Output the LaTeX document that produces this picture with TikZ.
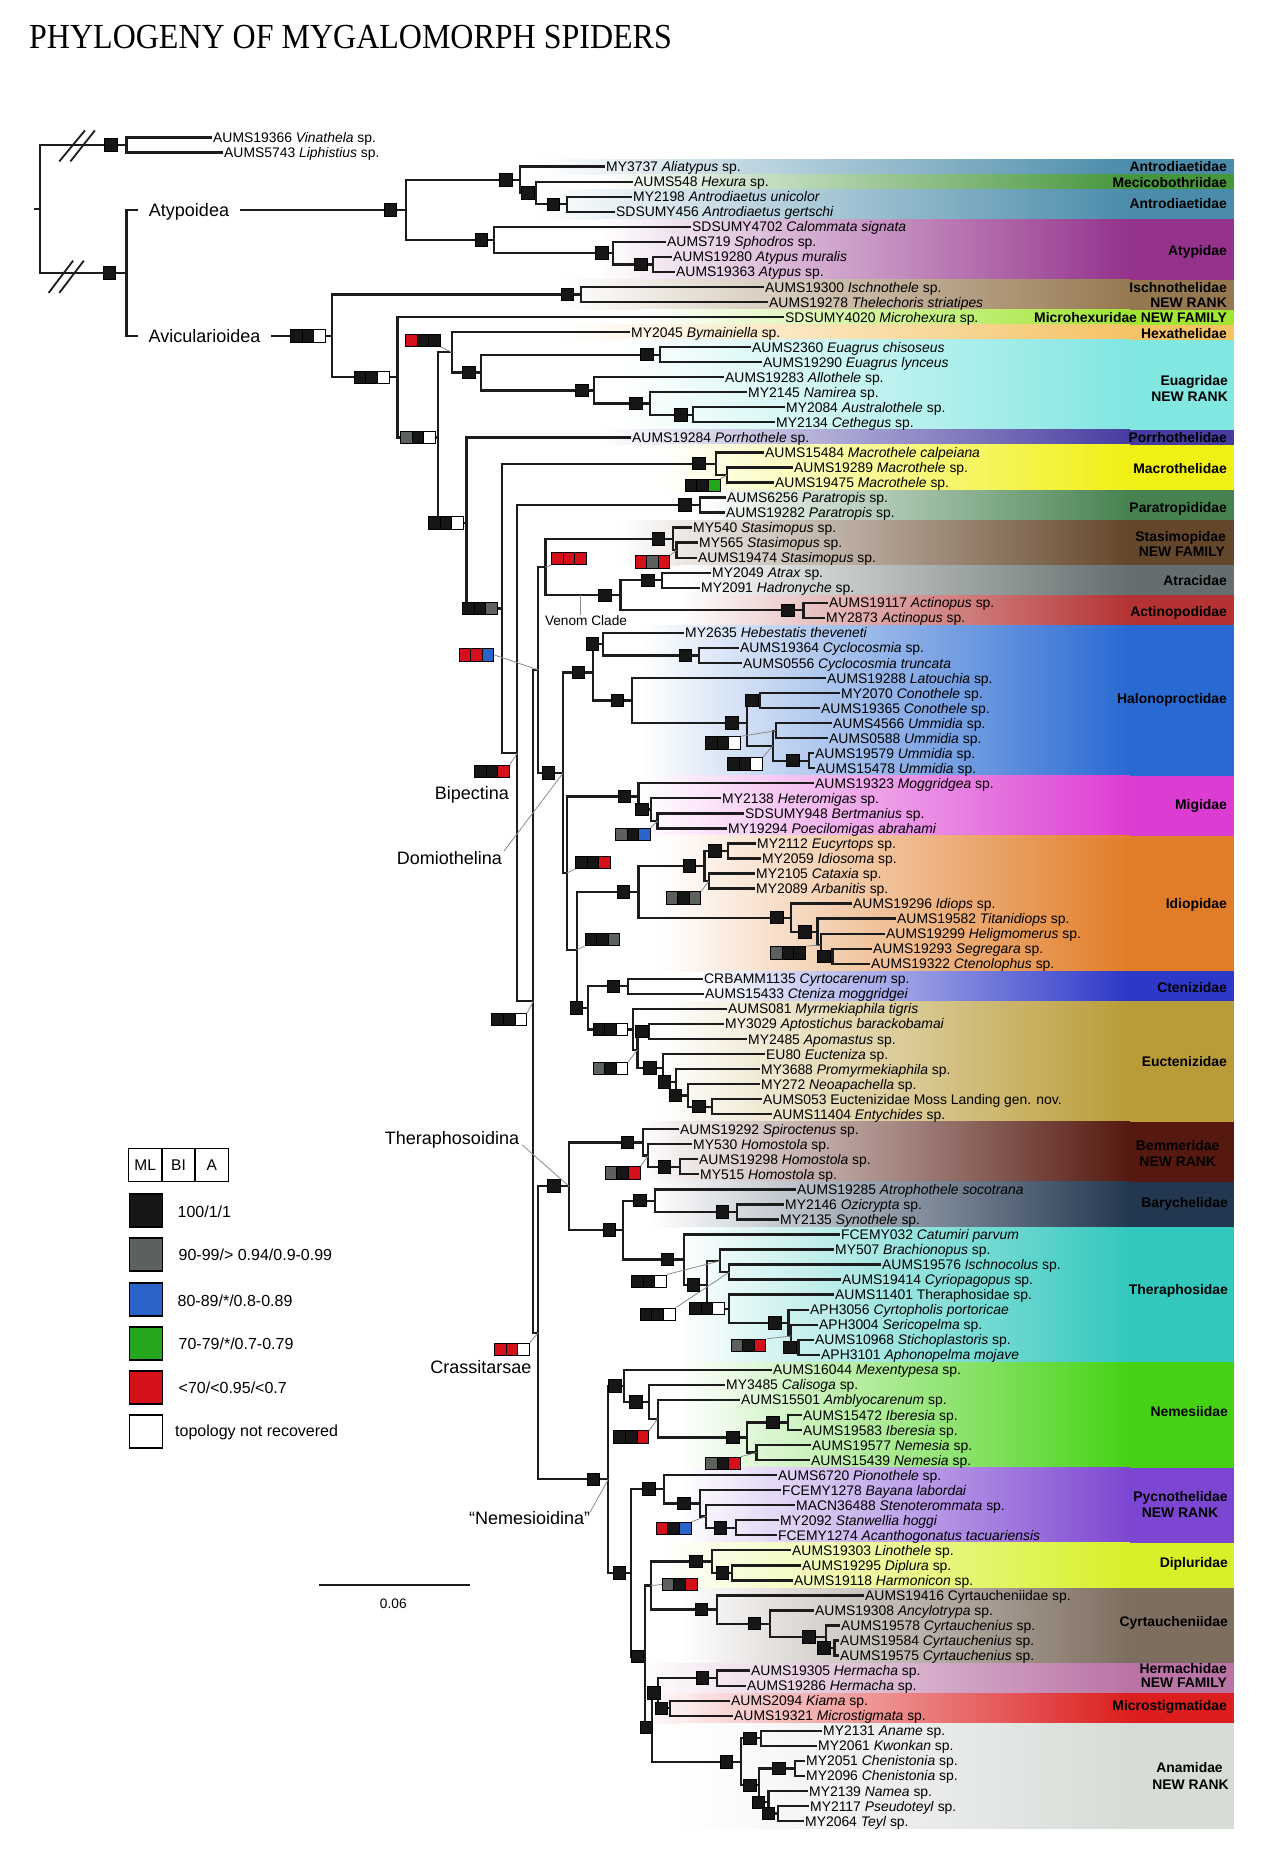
\documentclass[tikz,border=0pt]{standalone}
\usepackage{fontspec}
\usepackage{graphicx}
\setmainfont{Liberation Sans}
\newfontfamily\titlefont{Liberation Serif}
\definecolor{treeblack}{HTML}{1C1C1C}
\definecolor{leadgray}{HTML}{8C8C8C}
\definecolor{cB}{HTML}{161616}
\definecolor{cG}{HTML}{5C615E}
\definecolor{cR}{HTML}{D4111A}
\definecolor{cBl}{HTML}{2B64C8}
\definecolor{cGn}{HTML}{24A71E}
\definecolor{cW}{HTML}{FFFFFF}
\definecolor{kAntro}{HTML}{4A8CAA}
\definecolor{kMeci}{HTML}{46963C}
\definecolor{kAtyp}{HTML}{94328C}
\definecolor{kIsch}{HTML}{967850}
\definecolor{kMhex}{HTML}{A0E632}
\definecolor{kHexa}{HTML}{F5C364}
\definecolor{kEuag}{HTML}{82E6E1}
\definecolor{kPorr}{HTML}{463CA0}
\definecolor{kMacr}{HTML}{F0F014}
\definecolor{kPara}{HTML}{468250}
\definecolor{kStas}{HTML}{64462A}
\definecolor{kAtra}{HTML}{646E6E}
\definecolor{kActi}{HTML}{B43232}
\definecolor{kHalo}{HTML}{2869D2}
\definecolor{kMigi}{HTML}{DC3CD2}
\definecolor{kIdio}{HTML}{E17D28}
\definecolor{kCten}{HTML}{2D37C8}
\definecolor{kEuct}{HTML}{B99B37}
\definecolor{kBemm}{HTML}{55190F}
\definecolor{kBary}{HTML}{233750}
\definecolor{kTher}{HTML}{32C8BE}
\definecolor{kNeme}{HTML}{46D214}
\definecolor{kPycn}{HTML}{7D46D2}
\definecolor{kDipl}{HTML}{D7F028}
\definecolor{kCyrt}{HTML}{7D6E5F}
\definecolor{kHerm}{HTML}{B973A5}
\definecolor{kMicr}{HTML}{DC1E1E}
\definecolor{kAnam}{HTML}{D7DCD7}
\tikzset{
 br/.style={draw=treeblack,line width=2.3pt},
 lead/.style={draw=leadgray,line width=0.8pt},
 tip/.style={anchor=west,inner xsep=1pt,inner ysep=0pt,text height=10pt,text depth=0pt,font=\fontsize{13.9}{14}\selectfont},
 fam/.style={inner sep=0pt,text height=10pt,text depth=0pt,font=\bfseries\fontsize{13.9}{14}\selectfont},
 clade/.style={inner sep=0pt,text height=12.9pt,text depth=0pt,font=\fontsize{18}{18}\selectfont},
 sq/.style={draw=black,fill=cB,line width=1pt,minimum width=12.5pt,minimum height=12.5pt,inner sep=0pt},
 cell/.style={draw=black,line width=1pt,minimum width=11.6pt,minimum height=12.4pt,inner sep=0pt},
 legsq/.style={draw=black,line width=1.5pt,minimum width=33pt,minimum height=33pt,inner sep=0pt},
 legtxt/.style={anchor=west,inner sep=0pt,text height=11.5pt,text depth=0pt,font=\fontsize{16}{16}\selectfont},
}
\newcommand\kids[3]{\draw[br] (#1) |- (#2); \draw[br] (#1) |- (#3);}
\newcommand\onebox[2]{\node[sq] (#1) at (#2) {};}
\newcommand\tribox[5]{%
 \node[cell,fill=#3] (#1a) at ([xshift=-11.6pt]#2) {};%
 \node[cell,fill=#4] (#1b) at (#2) {};%
 \node[cell,fill=#5] (#1c) at ([xshift=11.6pt]#2) {};}
\newcommand\fband[4]{%
 \shade[left color=white,right color=#4] (#1,#2) rectangle (1130,#3);%
 \fill[#4] (1129.5,#2) rectangle (1234,#3);}
\begin{document}
\begin{tikzpicture}[x=1pt,y=-1pt]
\useasboundingbox (0,0) rectangle (1269,1863);
\fill[white] (0,0) rectangle (1269,1863);
% ---------- title
\node[anchor=base west,inner sep=0pt,font=\titlefont\fontsize{32}{32}\selectfont] (title) at (29,48.3) {\scalebox{1}[1.1]{PHYLOGENY OF MYGALOMORPH SPIDERS}};
% ---------- family bands
\fband{540}{159.1}{174.15}{kAntro}
\fband{600}{174.15}{189.2}{kMeci}
\fband{540}{189.2}{219.3}{kAntro}
\fband{600}{219.3}{279.5}{kAtyp}
\fband{560}{279.5}{309.5}{kIsch}
\fband{640}{309.5}{324.6}{kMhex}
\fband{560}{324.6}{339.6}{kHexa}
\fband{620}{339.6}{429.9}{kEuag}
\fband{600}{429.9}{444.9}{kPorr}
\fband{660}{444.9}{490.0}{kMacr}
\fband{700}{490.0}{520.1}{kPara}
\fband{620}{520.1}{565.2}{kStas}
\fband{680}{565.2}{595.3}{kAtra}
\fband{680}{595.3}{625.4}{kActi}
\fband{640}{625.4}{775.7}{kHalo}
\fband{640}{775.7}{835.9}{kMigi}
\fband{660}{835.9}{971.3}{kIdio}
\fband{700}{971.3}{1001.4}{kCten}
\fband{660}{1001.4}{1121.7}{kEuct}
\fband{640}{1121.7}{1181.8}{kBemm}
\fband{650}{1181.8}{1227.0}{kBary}
\fband{680}{1227.0}{1362.3}{kTher}
\fband{680}{1362.3}{1467.6}{kNeme}
\fband{680}{1467.6}{1542.8}{kPycn}
\fband{660}{1542.8}{1588.0}{kDipl}
\fband{680}{1588.0}{1663.1}{kCyrt}
\fband{640}{1663.1}{1693.2}{kHerm}
\fband{640}{1693.2}{1723.3}{kMicr}
\fband{680}{1723.3}{1828.5}{kAnam}
% ---------- family labels
\node[fam,anchor=east] (f1) at (1227,166.6) {Antrodiaetidae};
\node[fam,anchor=east] (f2) at (1227,182.5) {Mecicobothriidae};
\node[fam,anchor=east] (f3) at (1227,203.8) {Antrodiaetidae};
\node[fam,anchor=east] (f4) at (1227,250.5) {Atypidae};
\node[fam,anchor=east] (f5) at (1227,287.0) {Ischnothelidae};
\node[fam,anchor=east] (f5b) at (1227,302.0) {NEW RANK};
\node[fam,anchor=east] (f6) at (1227,317.0) {Microhexuridae NEW FAMILY};
\node[fam,anchor=east] (f7) at (1227,333.0) {Hexathelidae};
\node[fam,anchor=east] (f8) at (1228,380.0) {Euagridae};
\node[fam,anchor=east] (f8b) at (1228,396.0) {NEW RANK};
\node[fam,anchor=east] (f9) at (1227,437.4) {Porrhothelidae};
\node[fam,anchor=east] (f10) at (1227,468.0) {Macrothelidae};
\node[fam,anchor=east] (f11) at (1227,507.3) {Paratropididae};
\node[fam,anchor=east] (f12) at (1226,536.0) {Stasimopidae};
\node[fam,anchor=east] (f12b) at (1225,551.0) {NEW FAMILY};
\node[fam,anchor=east] (f13) at (1227,580.7) {Atracidae};
\node[fam,anchor=east] (f14) at (1227,611.7) {Actinopodidae};
\node[fam,anchor=east] (f15) at (1227,698.3) {Halonoproctidae};
\node[fam,anchor=east] (f16) at (1227,804.3) {Migidae};
\node[fam,anchor=east] (f17) at (1227,903.3) {Idiopidae};
\node[fam,anchor=east] (f18) at (1227,987.3) {Ctenizidae};
\node[fam,anchor=east] (f19) at (1227,1061.7) {Euctenizidae};
\node[fam] (f20) at (1177.7,1145.0) {Bemmeridae};
\node[fam] (f20b) at (1177.7,1161.7) {NEW RANK};
\node[fam,anchor=east] (f21) at (1228,1202.7) {Barychelidae};
\node[fam,anchor=east] (f22) at (1228,1289.0) {Theraphosidae};
\node[fam,anchor=east] (f23) at (1228,1411.7) {Nemesiidae};
\node[fam] (f24) at (1180.5,1496.7) {Pycnothelidae};
\node[fam] (f24b) at (1180.0,1512.3) {NEW RANK};
\node[fam,anchor=east] (f25) at (1228,1562.3) {Dipluridae};
\node[fam,anchor=east] (f26) at (1228,1621.0) {Cyrtaucheniidae};
\node[fam,anchor=east] (f27) at (1227,1668.3) {Hermachidae};
\node[fam,anchor=east] (f27b) at (1227,1682.7) {NEW FAMILY};
\node[fam,anchor=east] (f28) at (1227,1705.7) {Microstigmatidae};
\node[fam] (f29) at (1189.5,1767.3) {Anamidae};
\node[fam] (f29b) at (1190.5,1784.0) {NEW RANK};
% ---------- tip labels
\node[tip] (o1) at (212,137.5) {AUMS19366 \textit{Vinathela} sp.};
\node[tip] (o2) at (223,152.5) {AUMS5743 \textit{Liphistius} sp.};
\node[tip] (t1) at (605,166.6) {MY3737 \textit{Aliatypus} sp.};
\node[tip] (t2) at (633,181.7) {AUMS548 \textit{Hexura} sp.};
\node[tip] (t3) at (632,196.7) {MY2198 \textit{Antrodiaetus unicolor}};
\node[tip] (t4) at (615,211.8) {SDSUMY456 \textit{Antrodiaetus gertschi}};
\node[tip] (t5) at (691,226.8) {SDSUMY4702 \textit{Calommata signata}};
\node[tip] (t6) at (666,241.8) {AUMS719 \textit{Sphodros} sp.};
\node[tip] (t7) at (672,256.9) {AUMS19280 \textit{Atypus muralis}};
\node[tip] (t8) at (675,271.9) {AUMS19363 \textit{Atypus} sp.};
\node[tip] (t9) at (764,287.0) {AUMS19300 \textit{Ischnothele} sp.};
\node[tip] (t10) at (768,302.0) {AUMS19278 \textit{Thelechoris striatipes}};
\node[tip] (t11) at (784,317.0) {SDSUMY4020 \textit{Microhexura} sp.};
\node[tip] (t12) at (630,332.1) {MY2045 \textit{Bymainiella} sp.};
\node[tip] (t13) at (751,347.1) {AUMS2360 \textit{Euagrus chisoseus}};
\node[tip] (t14) at (762,362.2) {AUMS19290 \textit{Euagrus lynceus}};
\node[tip] (t15) at (724,377.2) {AUMS19283 \textit{Allothele} sp.};
\node[tip] (t16) at (747,392.2) {MY2145 \textit{Namirea} sp.};
\node[tip] (t17) at (785,407.3) {MY2084 \textit{Australothele} sp.};
\node[tip] (t18) at (775,422.3) {MY2134 \textit{Cethegus} sp.};
\node[tip] (t19) at (631,437.4) {AUMS19284 \textit{Porrhothele} sp.};
\node[tip] (t20) at (764,452.4) {AUMS15484 \textit{Macrothele calpeiana}};
\node[tip] (t21) at (793,467.4) {AUMS19289 \textit{Macrothele} sp.};
\node[tip] (t22) at (774,482.5) {AUMS19475 \textit{Macrothele} sp.};
\node[tip] (t23) at (726,497.5) {AUMS6256 \textit{Paratropis} sp.};
\node[tip] (t24) at (725,512.6) {AUMS19282 \textit{Paratropis} sp.};
\node[tip] (t25) at (692,527.6) {MY540 \textit{Stasimopus} sp.};
\node[tip] (t26) at (698,542.6) {MY565 \textit{Stasimopus} sp.};
\node[tip] (t27) at (697,557.7) {AUMS19474 \textit{Stasimopus} sp.};
\node[tip] (t28) at (711,572.7) {MY2049 \textit{Atrax} sp.};
\node[tip] (t29) at (700,587.8) {MY2091 \textit{Hadronyche} sp.};
\node[tip] (t30) at (828,602.8) {AUMS19117 \textit{Actinopus} sp.};
\node[tip] (t31) at (825,617.8) {MY2873 \textit{Actinopus} sp.};
\node[tip] (t32) at (684,632.9) {MY2635 \textit{Hebestatis theveneti}};
\node[tip] (t33) at (739,647.9) {AUMS19364 \textit{Cyclocosmia} sp.};
\node[tip] (t34) at (742,663.0) {AUMS0556 \textit{Cyclocosmia truncata}};
\node[tip] (t35) at (826,678.0) {AUMS19288 \textit{Latouchia} sp.};
\node[tip] (t36) at (840,693.0) {MY2070 \textit{Conothele} sp.};
\node[tip] (t37) at (820,708.1) {AUMS19365 \textit{Conothele} sp.};
\node[tip] (t38) at (832,723.1) {AUMS4566 \textit{Ummidia} sp.};
\node[tip] (t39) at (828,738.2) {AUMS0588 \textit{Ummidia} sp.};
\node[tip] (t40) at (814,753.2) {AUMS19579 \textit{Ummidia} sp.};
\node[tip] (t41) at (815,768.2) {AUMS15478 \textit{Ummidia} sp.};
\node[tip] (t42) at (814,783.3) {AUMS19323 \textit{Moggridgea} sp.};
\node[tip] (t43) at (721,798.3) {MY2138 \textit{Heteromigas} sp.};
\node[tip] (t44) at (744,813.4) {SDSUMY948 \textit{Bertmanius} sp.};
\node[tip] (t45) at (727,828.4) {MY19294 \textit{Poecilomigas abrahami}};
\node[tip] (t46) at (756,843.4) {MY2112 \textit{Eucyrtops} sp.};
\node[tip] (t47) at (761,858.5) {MY2059 \textit{Idiosoma} sp.};
\node[tip] (t48) at (755,873.5) {MY2105 \textit{Cataxia} sp.};
\node[tip] (t49) at (755,888.6) {MY2089 \textit{Arbanitis} sp.};
\node[tip] (t50) at (852,903.6) {AUMS19296 \textit{Idiops} sp.};
\node[tip] (t51) at (896,918.6) {AUMS19582 \textit{Titanidiops} sp.};
\node[tip] (t52) at (885,933.7) {AUMS19299 \textit{Heligmomerus} sp.};
\node[tip] (t53) at (872,948.7) {AUMS19293 \textit{Segregara} sp.};
\node[tip] (t54) at (870,963.8) {AUMS19322 \textit{Ctenolophus} sp.};
\node[tip] (t55) at (703,978.8) {CRBAMM1135 \textit{Cyrtocarenum} sp.};
\node[tip] (t56) at (704,993.8) {AUMS15433 \textit{Cteniza moggridgei}};
\node[tip] (t57) at (727,1008.9) {AUMS081 \textit{Myrmekiaphila tigris}};
\node[tip] (t58) at (724,1023.9) {MY3029 \textit{Aptostichus barackobamai}};
\node[tip] (t59) at (747,1039.0) {MY2485 \textit{Apomastus} sp.};
\node[tip] (t60) at (765,1054.0) {EU80 \textit{Eucteniza} sp.};
\node[tip] (t61) at (760,1069.0) {MY3688 \textit{Promyrmekiaphila} sp.};
\node[tip] (t62) at (760,1084.1) {MY272 \textit{Neoapachella} sp.};
\node[tip] (t63) at (762,1099.1) {AUMS053 Euctenizidae Moss Landing gen. nov.};
\node[tip] (t64) at (772,1114.2) {AUMS11404 \textit{Entychides} sp.};
\node[tip] (t65) at (679,1129.2) {AUMS19292 \textit{Spiroctenus} sp.};
\node[tip] (t66) at (692,1144.2) {MY530 \textit{Homostola} sp.};
\node[tip] (t67) at (698,1159.3) {AUMS19298 \textit{Homostola} sp.};
\node[tip] (t68) at (699,1174.3) {MY515 \textit{Homostola} sp.};
\node[tip] (t69) at (796,1189.4) {AUMS19285 \textit{Atrophothele socotrana}};
\node[tip] (t70) at (784,1204.4) {MY2146 \textit{Ozicrypta} sp.};
\node[tip] (t71) at (779,1219.4) {MY2135 \textit{Synothele} sp.};
\node[tip] (t72) at (840,1234.5) {FCEMY032 \textit{Catumiri parvum}};
\node[tip] (t73) at (834,1249.5) {MY507 \textit{Brachionopus} sp.};
\node[tip] (t74) at (881,1264.6) {AUMS19576 \textit{Ischnocolus} sp.};
\node[tip] (t75) at (841,1279.6) {AUMS19414 \textit{Cyriopagopus} sp.};
\node[tip] (t76) at (834,1294.6) {AUMS11401 Theraphosidae sp.};
\node[tip] (t77) at (809,1309.7) {APH3056 \textit{Cyrtopholis portoricae}};
\node[tip] (t78) at (818,1324.7) {APH3004 \textit{Sericopelma} sp.};
\node[tip] (t79) at (814,1339.8) {AUMS10968 \textit{Stichoplastoris} sp.};
\node[tip] (t80) at (820,1354.8) {APH3101 \textit{Aphonopelma mojave}};
\node[tip] (t81) at (772,1369.8) {AUMS16044 \textit{Mexentypesa} sp.};
\node[tip] (t82) at (725,1384.9) {MY3485 \textit{Calisoga} sp.};
\node[tip] (t83) at (740,1399.9) {AUMS15501 \textit{Amblyocarenum} sp.};
\node[tip] (t84) at (802,1415.0) {AUMS15472 \textit{Iberesia} sp.};
\node[tip] (t85) at (802,1430.0) {AUMS19583 \textit{Iberesia} sp.};
\node[tip] (t86) at (811,1445.0) {AUMS19577 \textit{Nemesia} sp.};
\node[tip] (t87) at (810,1460.1) {AUMS15439 \textit{Nemesia} sp.};
\node[tip] (t88) at (777,1475.1) {AUMS6720 \textit{Pionothele} sp.};
\node[tip] (t89) at (781,1490.2) {FCEMY1278 \textit{Bayana labordai}};
\node[tip] (t90) at (795,1505.2) {MACN36488 \textit{Stenoterommata} sp.};
\node[tip] (t91) at (779,1520.2) {MY2092 \textit{Stanwellia hoggi}};
\node[tip] (t92) at (777,1535.3) {FCEMY1274 \textit{Acanthogonatus tacuariensis}};
\node[tip] (t93) at (791,1550.3) {AUMS19303 \textit{Linothele} sp.};
\node[tip] (t94) at (801,1565.4) {AUMS19295 \textit{Diplura} sp.};
\node[tip] (t95) at (793,1580.4) {AUMS19118 \textit{Harmonicon} sp.};
\node[tip] (t96) at (864,1595.4) {AUMS19416 Cyrtaucheniidae sp.};
\node[tip] (t97) at (814,1610.5) {AUMS19308 \textit{Ancylotrypa} sp.};
\node[tip] (t98) at (840,1625.5) {AUMS19578 \textit{Cyrtauchenius} sp.};
\node[tip] (t99) at (839,1640.6) {AUMS19584 \textit{Cyrtauchenius} sp.};
\node[tip] (t100) at (839,1655.6) {AUMS19575 \textit{Cyrtauchenius} sp.};
\node[tip] (t101) at (750,1670.6) {AUMS19305 \textit{Hermacha} sp.};
\node[tip] (t102) at (746,1685.7) {AUMS19286 \textit{Hermacha} sp.};
\node[tip] (t103) at (730,1700.7) {AUMS2094 \textit{Kiama} sp.};
\node[tip] (t104) at (733,1715.8) {AUMS19321 \textit{Microstigmata} sp.};
\node[tip] (t105) at (822,1730.8) {MY2131 \textit{Aname} sp.};
\node[tip] (t106) at (817,1745.8) {MY2061 \textit{Kwonkan} sp.};
\node[tip] (t107) at (805,1760.9) {MY2051 \textit{Chenistonia} sp.};
\node[tip] (t108) at (805,1775.9) {MY2096 \textit{Chenistonia} sp.};
\node[tip] (t109) at (808,1791.0) {MY2139 \textit{Namea} sp.};
\node[tip] (t110) at (809,1806.0) {MY2117 \textit{Pseudoteyl} sp.};
\node[tip] (t111) at (804,1821.0) {MY2064 \textit{Teyl} sp.};
% ---------- internal nodes
\coordinate (R0) at (34,208.95);
\coordinate (R) at (40,208.95);
\coordinate (OG) at (126.5,145);
\coordinate (AA) at (126.5,272.9);
\coordinate (AT) at (406,209.9);
\coordinate (AN1) at (520,179.8);
\coordinate (AN2) at (536,193.0);
\coordinate (AN3) at (567,204.25);
\coordinate (AY1) at (494,240.0);
\coordinate (AY2) at (613,253.1);
\coordinate (AY3) at (653,264.4);
\coordinate (AV) at (332,335.9);
\coordinate (IS) at (581,294.5);
\coordinate (AL) at (397.4,377.3);
\coordinate (X) at (438,437.6);
\coordinate (HE) at (452,352.3);
\coordinate (EU0) at (481,372.5);
\coordinate (EU1) at (660,354.65);
\coordinate (EU2) at (594,390.35);
\coordinate (EU3) at (650,403.5);
\coordinate (EU4) at (693,414.8);
\coordinate (Y) at (466.6,522.9);
\coordinate (Z) at (501.7,608.45);
\coordinate (M1) at (716,463.7);
\coordinate (M2) at (727,475);
\coordinate (B) at (517.3,753.2);
\coordinate (PA) at (700,505.05);
\coordinate (C) at (533.3,1001.3);
\coordinate (D) at (538.3,669.9);
\coordinate (SV) at (545.6,567.1);
\coordinate (ST1) at (673,538.9);
\coordinate (ST2) at (676.5,550.15);
\coordinate (VC) at (620.5,595.3);
\coordinate (AX) at (662,580.25);
\coordinate (AC) at (803.5,610.3);
\coordinate (F) at (563.3,772.75);
\coordinate (H0) at (592.7,672.4);
\coordinate (H1) at (602.7,644.2);
\coordinate (CY) at (699,655.45);
\coordinate (H2) at (631.7,700.55);
\coordinate (H3) at (747,723.1);
\coordinate (CO) at (760,700.55);
\coordinate (U0) at (772.8,745.7);
\coordinate (U1) at (776,730.65);
\coordinate (U2) at (809,760.7);
\coordinate (G) at (566.7,873.1);
\coordinate (MG0) at (638.4,796.45);
\coordinate (MG1) at (651,809.6);
\coordinate (MG2) at (657.6,820.9);
\coordinate (G2) at (576.7,949.8);
\coordinate (ID0) at (638.4,891.85);
\coordinate (ID1) at (704.5,866);
\coordinate (ID1a) at (728,850.95);
\coordinate (ID1b) at (708.8,881.05);
\coordinate (ID2) at (790.7,917.7);
\coordinate (ID3) at (817.6,931.8);
\coordinate (ID4) at (821,945);
\coordinate (ID5) at (832.5,956.25);
\coordinate (G3) at (588.3,1007.8);
\coordinate (CT) at (628.3,986.3);
\coordinate (EC0) at (633.3,1029.35);
\coordinate (EC1) at (637.5,1049.8);
\coordinate (EC2) at (649,1031.45);
\coordinate (EC3) at (663.3,1068.1);
\coordinate (EC4) at (675.7,1082.2);
\coordinate (EC5) at (688.3,1095.4);
\coordinate (EC6) at (712.3,1106.65);
\coordinate (E) at (538.3,1332.75);
\coordinate (T0) at (569,1186.2);
\coordinate (BM0) at (643.3,1142.35);
\coordinate (BM1) at (648.3,1155.5);
\coordinate (BM2) at (680,1166.8);
\coordinate (T1) at (623.3,1230.1);
\coordinate (BA0) at (655,1200.65);
\coordinate (BA1) at (737.3,1211.9);
\coordinate (TH0) at (684,1259.6);
\coordinate (TH1) at (706.7,1284.75);
\coordinate (TH2) at (720.3,1260.8);
\coordinate (TH3) at (729.3,1272.1);
\coordinate (TH4) at (729.3,1308.7);
\coordinate (TH5) at (788.5,1322.85);
\coordinate (TH5b) at (791,1336);
\coordinate (TH6) at (798.4,1347.3);
\coordinate (N0) at (608.3,1479.3);
\coordinate (NE0) at (624.3,1385.8);
\coordinate (NE1) at (649,1401.8);
\coordinate (NE2) at (657.7,1418.7);
\coordinate (NE3) at (747,1437.5);
\coordinate (NE4) at (787.7,1422.5);
\coordinate (NE5) at (756.6,1452.55);
\coordinate (N1) at (630.7,1572.85);
\coordinate (PY0) at (664,1489.2);
\coordinate (PY1) at (700,1503.35);
\coordinate (PY2) at (706,1516.5);
\coordinate (PY3) at (736,1527.75);
\coordinate (N2) at (645,1656.5);
\coordinate (N3) at (650.7,1585.55);
\coordinate (DI0) at (712.3,1561.6);
\coordinate (DI1) at (732.3,1572.9);
\coordinate (CR0) at (716.7,1609.5);
\coordinate (CR1) at (769.8,1623.65);
\coordinate (CR2) at (826,1636.8);
\coordinate (CR3) at (834.6,1648.1);
\coordinate (N4) at (652.3,1727.5);
\coordinate (HM) at (658.3,1693.2);
\coordinate (HE2) at (716.7,1678.15);
\coordinate (MI) at (670,1708.25);
\coordinate (AM0) at (741,1761.8);
\coordinate (AM1) at (761,1738.3);
\coordinate (AM2) at (758.7,1785.3);
\coordinate (AM3) at (795,1768.4);
\coordinate (AM4) at (768.5,1802.25);
\coordinate (AM5) at (778.3,1813.5);
% ---------- branches
\draw[br] (R0) -- (R);
\kids{R}{OG}{AA}
\kids{OG}{o1.west}{o2.west}
\kids{AA}{AT}{AV}
\kids{AT}{AN1}{AY1}
\kids{AN1}{t1.west}{AN2}
\kids{AN2}{t2.west}{AN3}
\kids{AN3}{t3.west}{t4.west}
\kids{AY1}{t5.west}{AY2}
\kids{AY2}{t6.west}{AY3}
\kids{AY3}{t7.west}{t8.west}
\kids{AV}{IS}{AL}
\kids{IS}{t9.west}{t10.west}
\kids{AL}{t11.west}{X}
\kids{X}{HE}{Y}
\kids{HE}{t12.west}{EU0}
\kids{EU0}{EU1}{EU2}
\kids{EU1}{t13.west}{t14.west}
\kids{EU2}{t15.west}{EU3}
\kids{EU3}{t16.west}{EU4}
\kids{EU4}{t17.west}{t18.west}
\kids{Y}{t19.west}{Z}
\kids{Z}{M1}{B}
\kids{M1}{t20.west}{M2}
\kids{M2}{t21.west}{t22.west}
\kids{B}{PA}{C}
\kids{PA}{t23.west}{t24.west}
\kids{C}{D}{E}
\kids{D}{SV}{F}
\kids{SV}{ST1}{VC}
\kids{ST1}{t25.west}{ST2}
\kids{ST2}{t26.west}{t27.west}
\kids{VC}{AX}{AC}
\kids{AX}{t28.west}{t29.west}
\kids{AC}{t30.west}{t31.west}
\kids{F}{H0}{G}
\kids{H0}{H1}{H2}
\kids{H1}{t32.west}{CY}
\kids{CY}{t33.west}{t34.west}
\kids{H2}{t35.west}{H3}
\kids{H3}{CO}{U0}
\kids{CO}{t36.west}{t37.west}
\kids{U0}{U1}{U2}
\kids{U1}{t38.west}{t39.west}
\kids{U2}{t40.west}{t41.west}
\kids{G}{MG0}{G2}
\kids{MG0}{t42.west}{MG1}
\kids{MG1}{t43.west}{MG2}
\kids{MG2}{t44.west}{t45.west}
\kids{G2}{ID0}{G3}
\kids{ID0}{ID1}{ID2}
\kids{ID1}{ID1a}{ID1b}
\kids{ID1a}{t46.west}{t47.west}
\kids{ID1b}{t48.west}{t49.west}
\kids{ID2}{t50.west}{ID3}
\kids{ID3}{t51.west}{ID4}
\kids{ID4}{t52.west}{ID5}
\kids{ID5}{t53.west}{t54.west}
\kids{G3}{CT}{EC0}
\kids{CT}{t55.west}{t56.west}
\kids{EC0}{t57.west}{EC1}
\kids{EC1}{EC2}{EC3}
\kids{EC2}{t58.west}{t59.west}
\kids{EC3}{t60.west}{EC4}
\kids{EC4}{t61.west}{EC5}
\kids{EC5}{t62.west}{EC6}
\kids{EC6}{t63.west}{t64.west}
\kids{E}{T0}{N0}
\kids{T0}{BM0}{T1}
\kids{BM0}{t65.west}{BM1}
\kids{BM1}{t66.west}{BM2}
\kids{BM2}{t67.west}{t68.west}
\kids{T1}{BA0}{TH0}
\kids{BA0}{t69.west}{BA1}
\kids{BA1}{t70.west}{t71.west}
\kids{TH0}{t72.west}{TH1}
\kids{TH1}{TH2}{TH4}
\kids{TH2}{t73.west}{TH3}
\kids{TH3}{t74.west}{t75.west}
\kids{TH4}{t76.west}{TH5}
\kids{TH5}{t77.west}{TH5b}
\kids{TH5b}{t78.west}{TH6}
\kids{TH6}{t79.west}{t80.west}
\kids{N0}{NE0}{N1}
\kids{NE0}{t81.west}{NE1}
\kids{NE1}{t82.west}{NE2}
\kids{NE2}{t83.west}{NE3}
\kids{NE3}{NE4}{NE5}
\kids{NE4}{t84.west}{t85.west}
\kids{NE5}{t86.west}{t87.west}
\kids{N1}{PY0}{N2}
\kids{PY0}{t88.west}{PY1}
\kids{PY1}{t89.west}{PY2}
\kids{PY2}{t90.west}{PY3}
\kids{PY3}{t91.west}{t92.west}
\kids{N2}{N3}{N4}
\kids{N3}{DI0}{CR0}
\kids{DI0}{t93.west}{DI1}
\kids{DI1}{t94.west}{t95.west}
\kids{CR0}{t96.west}{CR1}
\kids{CR1}{t97.west}{CR2}
\kids{CR2}{t98.west}{CR3}
\kids{CR3}{t99.west}{t100.west}
\kids{N4}{HM}{AM0}
\kids{HM}{HE2}{MI}
\kids{HE2}{t101.west}{t102.west}
\kids{MI}{t103.west}{t104.west}
\kids{AM0}{AM1}{AM2}
\kids{AM1}{t105.west}{t106.west}
\kids{AM2}{AM3}{AM4}
\kids{AM3}{t107.west}{t108.west}
\kids{AM4}{t109.west}{AM5}
\kids{AM5}{t110.west}{t111.west}
% ---------- long-branch break marks
\draw[treeblack,line width=1.8pt] (59.3,161.4) -- (85,130.4);
\draw[treeblack,line width=1.8pt] (70.4,161.4) -- (94.9,130.4);
\draw[treeblack,line width=1.8pt] (48.6,292.9) -- (73.1,260.7);
\draw[treeblack,line width=1.8pt] (59.3,292.9) -- (83.8,260.7);
% ---------- superfamily labels on branches
\node[clade,fill=white,inner xsep=11pt,inner ysep=3pt] (lAtyp) at (189,209.9) {Atypoidea};
\node[clade,fill=white,inner xsep=10.5pt,inner ysep=3pt] (lAvic) at (204.5,335.9) {Avicularioidea};
% ---------- triple support boxes (leaders first)
\tribox{xHE}{423,340.2}{cR}{cB}{cB}
\tribox{xM2}{702.6,485.7}{cB}{cB}{cGn}
\tribox{xST2}{652.5,561.8}{cR}{cG}{cR}
\tribox{xSV}{569,558.3}{cR}{cR}{cR}
\tribox{xU1}{723,743}{cB}{cB}{cW}
\tribox{xU0}{745,764}{cB}{cB}{cW}
\tribox{xMG2}{633,834.3}{cG}{cB}{cBl}
\tribox{xID1b}{683.5,897.8}{cG}{cB}{cG}
\tribox{xID4}{788,952.8}{cG}{cB}{cB}
\tribox{xEC1}{610.5,1068.3}{cG}{cB}{cW}
\tribox{xG2}{602.5,939.5}{cB}{cB}{cG}
\tribox{xG}{593,862.2}{cB}{cB}{cR}
\tribox{xD}{476.5,655}{cR}{cR}{cBl}
\tribox{xB}{491.8,771.2}{cB}{cB}{cR}
\tribox{xC}{509.2,1019.5}{cB}{cB}{cW}
\tribox{xBM1}{622.7,1172.8}{cG}{cB}{cR}
\tribox{xTH2}{649,1281.2}{cB}{cB}{cW}
\tribox{xTH3}{657.6,1314.5}{cB}{cB}{cW}
\tribox{xTH5b}{748.5,1345.5}{cG}{cB}{cR}
\tribox{xNE5}{723,1463.3}{cG}{cB}{cR}
\tribox{xNE2}{631.3,1437}{cB}{cB}{cR}
\tribox{xPY2}{673.7,1528.3}{cR}{cB}{cBl}
\tribox{xN3}{679.7,1584.5}{cG}{cB}{cR}
\tribox{xE}{512,1349.2}{cR}{cR}{cW}
\draw[lead] (xHEc.south east) -- (HE);
\draw[lead] (xM2c.north east) -- (M2);
\draw[lead] (xST2c.north east) -- (ST2);
\draw[lead] (xSVa.south west) -- (SV);
\draw[lead] (xU1c.north east) -- (U1);
\draw[lead] (xU0c.north east) -- (U0);
\draw[lead] (xMG2c.north east) -- (MG2);
\draw[lead] (xID1bc.north east) -- (ID1b);
\draw[lead] (xID4c.north east) -- (ID4);
\draw[lead] (xEC1c.north east) -- (EC1);
\draw[lead] (xG2a.south west) -- (G2);
\draw[lead] (xGa.south west) -- (G);
\draw[lead] (xDc.east) -- (D);
\draw[lead] (xBc.north east) -- (B);
\draw[lead] (xCc.north east) -- (C);
\draw[lead] (xBM1c.north east) -- (BM1);
\draw[lead] (xTH2c.north east) -- (TH2);
\draw[lead] (xTH3c.north east) -- (TH3);
\draw[lead] (xTH5bc.north east) -- (TH5b);
\draw[lead] (xNE5c.north east) -- (NE5);
\draw[lead] (xNE2c.north east) -- (NE2);
\draw[lead] (xPY2c.north east) -- (PY2);
\draw[lead] (xN3a.west) -- (N3);
\draw[lead] (xEc.north east) -- (E);
% redraw offset boxes on top of leaders
\tribox{yHE}{423,340.2}{cR}{cB}{cB}
\tribox{yM2}{702.6,485.7}{cB}{cB}{cGn}
\tribox{yST2}{652.5,561.8}{cR}{cG}{cR}
\tribox{ySV}{569,558.3}{cR}{cR}{cR}
\tribox{yU1}{723,743}{cB}{cB}{cW}
\tribox{yU0}{745,764}{cB}{cB}{cW}
\tribox{yMG2}{633,834.3}{cG}{cB}{cBl}
\tribox{yID1b}{683.5,897.8}{cG}{cB}{cG}
\tribox{yID4}{788,952.8}{cG}{cB}{cB}
\tribox{yEC1}{610.5,1068.3}{cG}{cB}{cW}
\tribox{yG2}{602.5,939.5}{cB}{cB}{cG}
\tribox{yG}{593,862.2}{cB}{cB}{cR}
\tribox{yD}{476.5,655}{cR}{cR}{cBl}
\tribox{yB}{491.8,771.2}{cB}{cB}{cR}
\tribox{yC}{509.2,1019.5}{cB}{cB}{cW}
\tribox{yBM1}{622.7,1172.8}{cG}{cB}{cR}
\tribox{yTH2}{649,1281.2}{cB}{cB}{cW}
\tribox{yTH3}{657.6,1314.5}{cB}{cB}{cW}
\tribox{yTH5b}{748.5,1345.5}{cG}{cB}{cR}
\tribox{yNE5}{723,1463.3}{cG}{cB}{cR}
\tribox{yNE2}{631.3,1437}{cB}{cB}{cR}
\tribox{yPY2}{673.7,1528.3}{cR}{cB}{cBl}
\tribox{yN3}{679.7,1584.5}{cG}{cB}{cR}
\tribox{yE}{512,1349.2}{cR}{cR}{cW}
% triple boxes on branches
\tribox{xAV}{307.8,335.9}{cB}{cB}{cW}
\tribox{xAL}{371.7,377.3}{cB}{cB}{cW}
\tribox{xX}{418,437.6}{cG}{cB}{cW}
\tribox{xY}{446,522.9}{cB}{cB}{cW}
\tribox{xZ}{480,608.45}{cB}{cB}{cG}
\tribox{xEC0}{610.5,1029.35}{cB}{cB}{cW}
\tribox{xTH4}{707,1308.7}{cB}{cB}{cW}
% ---------- single support boxes
\onebox{bOG}{111,145}
\onebox{bAA}{109.5,272.9}
\onebox{bAT}{390.7,209.9}
\onebox{bAN1}{506,179.8}
\onebox{bAN2}{528,193.0}
\onebox{bAN3}{553.6,204.25}
\onebox{bAY1}{481.6,240.0}
\onebox{bAY2}{602,253.1}
\onebox{bAY3}{641,264.4}
\onebox{bIS}{567.4,294.5}
\onebox{bEU0}{469,372.5}
\onebox{bEU1}{647,354.65}
\onebox{bEU2}{582,390.35}
\onebox{bEU3}{636,403.5}
\onebox{bEU4}{681,414.8}
\onebox{bM1}{699,463.7}
\onebox{bPA}{685,505.05}
\onebox{bST1}{658.3,538.9}
\onebox{bAX}{648,580.25}
\onebox{bAC}{788,610.3}
\onebox{bVC}{605,595.3}
\onebox{bH0}{578.3,672.4}
\onebox{bH1}{592.7,644.2}
\onebox{bCY}{685.7,655.45}
\onebox{bH2}{617.3,700.55}
\onebox{bH3}{732,723.1}
\onebox{bCO}{752,700.55}
\onebox{bU2}{792.8,760.7}
\onebox{bF}{548.3,772.75}
\onebox{bMG0}{624.3,796.45}
\onebox{bMG1}{641.8,809.6}
\onebox{bID0}{623.5,891.85}
\onebox{bID1}{689.6,866}
\onebox{bID1a}{715.2,850.95}
\onebox{bID2}{777,917.7}
\onebox{bID3}{804.8,931.8}
\onebox{bID5}{824,956.25}
\onebox{bG3}{576.7,1007.8}
\onebox{bCT}{613.3,986.3}
\onebox{bEC2}{641.8,1031.45}
\onebox{bEC3}{650,1068.1}
\onebox{bEC4}{664.3,1082.2}
\onebox{bEC5}{675.7,1095.4}
\onebox{bEC6}{699,1106.65}
\onebox{bT0}{554,1186.2}
\onebox{bBM0}{627.7,1142.35}
\onebox{bBM2}{664.3,1166.8}
\onebox{bT1}{609.3,1230.1}
\onebox{bBA0}{640,1200.65}
\onebox{bBA1}{722.7,1211.9}
\onebox{bTH0}{667.7,1259.6}
\onebox{bTH1}{693.3,1284.75}
\onebox{bTH5}{775,1322.85}
\onebox{bTH6}{789.8,1347.3}
\onebox{bN0}{593.3,1479.3}
\onebox{bNE0}{615,1385.8}
\onebox{bNE1}{636,1401.8}
\onebox{bNE3}{733,1437.5}
\onebox{bNE4}{772.8,1422.5}
\onebox{bN1}{619.3,1572.85}
\onebox{bPY0}{649,1489.2}
\onebox{bPY1}{684,1503.35}
\onebox{bPY3}{720.7,1527.75}
\onebox{bN2}{637.7,1656.5}
\onebox{bDI0}{696,1561.6}
\onebox{bDI1}{722.3,1572.9}
\onebox{bCR0}{701.7,1609.5}
\onebox{bCR1}{754.4,1623.65}
\onebox{bCR2}{809,1636.8}
\onebox{bCR3}{824,1648.1}
\onebox{bN4}{646.7,1727.5}
\onebox{bHM}{654,1693.2}
\onebox{bHE2}{702.7,1678.15}
\onebox{bMI}{661.7,1708.25}
\onebox{bAM0}{726.7,1761.8}
\onebox{bAM1}{750,1738.3}
\onebox{bAM2}{750,1785.3}
\onebox{bAM3}{779,1768.4}
\onebox{bAM4}{758.7,1802.25}
\onebox{bAM5}{768.5,1813.5}
% ---------- clade labels
\node[inner sep=0pt,text height=9.8pt,text depth=0pt,font=\fontsize{13.65}{14}\selectfont] (lVen) at (586,620.5) {Venom Clade};
\coordinate (vtick) at (580.7,595.3);
\draw[lead] (vtick) -- (lVen.north -| vtick);
\node[clade] (lBip) at (471.9,792.7) {Bipectina};
\node[clade] (lDom) at (449.3,857.7) {Domiothelina};
\draw[lead] ([xshift=2pt]lDom.north east) -- (F);
\node[clade] (lThe) at (452,1138.3) {Theraphosoidina};
\draw[lead] ([xshift=3pt]lThe.south east) -- (T0);
\node[clade] (lCra) at (481,1366.7) {Crassitarsae};
\node[clade] (lNem) at (529.7,1518.3) {“Nemesioidina”};
\draw[lead] (lNem.north east) -- (N0);
% ---------- legend
\node[draw=black,line width=1.5pt,minimum width=33.4pt,minimum height=33.4pt,inner sep=0pt,font=\fontsize{15.5}{16}\selectfont] (lML) at (145.2,1165) {ML};
\node[draw=black,line width=1.5pt,minimum width=33.4pt,minimum height=33.4pt,inner sep=0pt,font=\fontsize{15.5}{16}\selectfont] (lBI) at (178.5,1165) {BI};
\node[draw=black,line width=1.5pt,minimum width=33.4pt,minimum height=33.4pt,inner sep=0pt,font=\fontsize{15.5}{16}\selectfont] (lA) at (211.8,1165) {A};
\node[legsq,fill=cB] (lg1) at (146.2,1210.5) {};
\node[legsq,fill=cG] (lg2) at (146.2,1254.5) {};
\node[legsq,fill=cBl] (lg3) at (146.2,1299.5) {};
\node[legsq,fill=cGn] (lg4) at (146.2,1343.3) {};
\node[legsq,fill=cR] (lg5) at (146.2,1387.5) {};
\node[legsq,fill=cW] (lg6) at (146.2,1431.5) {};
\node[legtxt] (lt1) at (177.5,1211.5) {100/1/1};
\node[legtxt] (lt2) at (178.5,1255) {90-99/> 0.94/0.9-0.99};
\node[legtxt] (lt3) at (177.5,1300.5) {80-89/*/0.8-0.89};
\node[legtxt] (lt4) at (178.5,1343.3) {70-79/*/0.7-0.79};
\node[legtxt] (lt5) at (178.5,1387.7) {<70/<0.95/<0.7};
\node[legtxt] (lt6) at (175,1431) {topology not recovered};
% ---------- scale bar
\coordinate (sb1) at (319,1585);
\coordinate (sb2) at (470,1585);
\draw[treeblack,line width=1.6pt] (sb1) -- (sb2);
\node[inner sep=0pt,text height=9.8pt,text depth=0pt,font=\fontsize{13.7}{14}\selectfont] (sbl) at (393.3,1603.3) {0.06};
\end{tikzpicture}
\end{document}
